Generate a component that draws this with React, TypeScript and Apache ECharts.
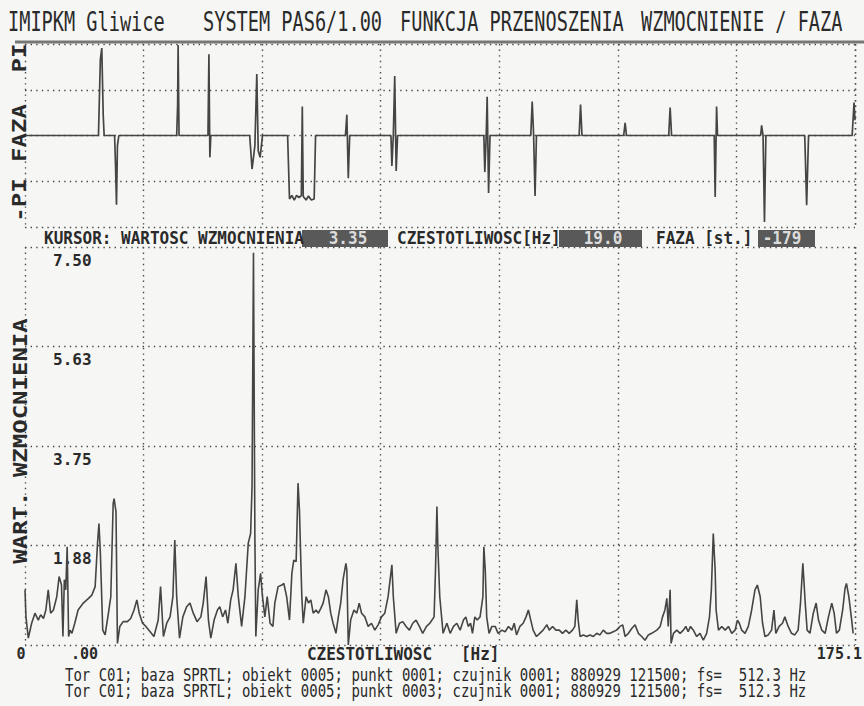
import React, { useEffect, useRef } from "react";
import * as echarts from "echarts";

// ---------- DATA ----------
const freqMax = 175.1;
const freqDivisions = 7;
const magMax = 7.5;
const magInterval = 1.875;
const phaseMin = -180;
const phaseMax = 180;
const phaseInterval = 90;

// magnitude (WART. WZMOCNIENIA) vs frequency [Hz]
const magFreq = [
  0.0, 0.2, 0.7, 1.4, 2.1, 2.8, 3.3, 3.9, 4.4, 4.9,
  5.4, 6.0, 6.7, 7.2, 7.7, 8.0, 8.3, 8.6, 8.9, 9.2,
  9.5, 9.9, 10.5, 11.2, 12.3, 13.4, 14.1, 14.8, 15.3, 15.6,
  15.9, 16.4, 16.9, 17.6, 18.1, 18.6, 18.8, 19.2, 19.5, 20.0,
  20.7, 21.6, 22.3, 23.0, 23.6, 24.1, 24.8, 25.5, 26.4, 27.2,
  28.1, 28.6, 29.2, 29.9, 30.6, 31.2, 31.6, 32.0, 32.6, 33.3,
  34.1, 34.8, 35.5, 36.3, 37.1, 37.6, 38.2, 38.7, 39.2, 39.9,
  40.6, 41.1, 41.7, 42.3, 42.8, 43.4, 43.9, 44.5, 45.0, 45.7,
  46.4, 47.1, 47.6, 47.9, 48.2, 48.5, 48.7, 49.2, 49.7, 50.1,
  50.6, 51.1, 51.7, 52.3, 52.7, 53.4, 54.2, 54.6, 55.2, 55.8,
  56.3, 56.7, 57.2, 57.6, 57.9, 58.2, 58.4, 58.7, 59.3, 59.8,
  60.3, 60.8, 61.4, 61.9, 62.4, 62.9, 63.5, 64.0, 64.5, 65.0,
  65.6, 66.1, 66.6, 67.1, 67.7, 67.9, 68.2, 68.7, 69.4, 70.0,
  70.5, 71.0, 71.7, 72.4, 73.1, 73.8, 74.5, 75.2, 75.9, 76.6,
  77.4, 77.7, 78.3, 79.0, 79.7, 80.4, 81.1, 81.8, 82.5, 83.2,
  83.9, 84.7, 85.4, 86.3, 86.6, 86.9, 87.1, 87.5, 88.2, 89.0,
  89.7, 90.4, 91.1, 91.8, 92.5, 93.0, 93.5, 94.0, 94.4, 94.9,
  95.4, 96.0, 96.6, 96.8, 97.1, 97.4, 97.9, 98.5, 99.2, 99.8,
  100.6, 101.3, 102.0, 102.7, 103.2, 103.7, 104.4, 105.1, 105.7, 106.2,
  106.7, 107.2, 107.9, 108.6, 109.3, 110.1, 110.6, 111.3, 112.0, 112.7,
  113.4, 114.1, 114.8, 115.5, 116.0, 116.4, 116.7, 117.1, 117.8, 118.5,
  119.2, 119.9, 120.6, 121.3, 122.0, 122.7, 123.4, 124.1, 124.8, 125.5,
  126.1, 126.6, 127.3, 128.0, 128.7, 129.4, 130.1, 130.8, 131.5, 132.2,
  133.3, 134.0, 134.5, 135.0, 135.4, 135.7, 136.1, 136.3, 136.8, 137.5,
  138.2, 138.9, 139.4, 139.9, 140.4, 141.0, 141.7, 142.4, 143.1, 143.8,
  144.4, 144.8, 145.2, 145.6, 145.8, 146.3, 147.0, 147.7, 148.4, 149.1,
  149.8, 150.3, 150.7, 151.2, 151.9, 152.6, 153.3, 154.0, 154.5, 155.1,
  155.6, 156.1, 156.8, 157.5, 158.0, 158.4, 159.1, 159.8, 160.3, 161.0,
  161.7, 162.4, 163.1, 163.6, 164.1, 164.6, 165.0, 165.6, 166.3, 166.9,
  167.4, 168.1, 168.8, 169.5, 170.2, 170.7, 171.2, 171.8, 172.5, 173.0,
  173.3, 173.8, 174.4, 174.7,
];
const magVal = [
  1.04, 0.53, 0.13, 0.41, 0.60, 0.47, 0.57, 0.50, 0.66, 1.04,
  0.60, 0.66, 0.91, 1.29, 1.13, 0.16, 1.23, 1.04, 1.85, 0.16,
  0.28, 0.22, 0.41, 0.66, 0.79, 0.88, 0.94, 1.10, 1.92, 2.29,
  1.73, 0.28, 0.19, 0.60, 0.91, 2.67, 2.76, 2.51, 0.03, 0.35,
  0.44, 0.44, 0.50, 0.66, 0.85, 0.60, 0.41, 0.35, 0.25, 0.16,
  0.47, 1.10, 0.16, 0.41, 0.53, 0.91, 1.98, 0.91, 0.13, 0.53,
  0.72, 0.79, 0.60, 0.44, 0.53, 0.79, 1.29, 0.47, 0.13, 0.47,
  0.66, 0.72, 0.53, 0.66, 0.41, 0.85, 1.04, 1.54, 0.91, 0.35,
  0.91, 1.92, 2.10, 3.00, 7.39, 2.00, 0.16, 1.04, 1.35, 0.91,
  0.53, 0.91, 0.41, 0.35, 0.79, 1.10, 1.13, 1.16, 0.91, 0.47,
  1.35, 1.60, 1.57, 3.05, 2.54, 1.54, 0.91, 0.41, 0.91, 0.79,
  0.85, 0.60, 0.66, 0.60, 0.69, 0.79, 1.04, 0.91, 0.60, 0.41,
  0.22, 0.53, 0.79, 1.23, 1.54, 1.41, 0.00, 0.47, 0.66, 0.60,
  0.79, 0.60, 0.53, 0.35, 0.41, 0.28, 0.38, 0.53, 0.60, 0.91,
  1.51, 0.91, 0.22, 0.41, 0.44, 0.35, 0.28, 0.41, 0.47, 0.35,
  0.22, 0.35, 0.41, 0.53, 1.41, 2.61, 1.85, 0.91, 0.22, 0.41,
  0.22, 0.35, 0.41, 0.28, 0.47, 0.53, 0.35, 0.41, 0.22, 0.53,
  0.47, 0.53, 0.91, 1.85, 1.41, 0.53, 0.22, 0.35, 0.35, 0.22,
  0.28, 0.25, 0.35, 0.28, 0.41, 0.19, 0.35, 0.41, 0.53, 0.66,
  0.47, 0.28, 0.16, 0.22, 0.28, 0.38, 0.28, 0.35, 0.28, 0.28,
  0.22, 0.28, 0.22, 0.28, 0.35, 0.85, 0.47, 0.16, 0.19, 0.16,
  0.19, 0.16, 0.22, 0.19, 0.28, 0.22, 0.22, 0.25, 0.28, 0.35,
  0.38, 0.16, 0.22, 0.31, 0.38, 0.22, 0.16, 0.09, 0.19, 0.22,
  0.28, 0.35, 0.53, 0.66, 0.88, 0.35, 1.04, 0.03, 0.22, 0.28,
  0.22, 0.28, 0.35, 0.25, 0.35, 0.28, 0.16, 0.22, 0.09, 0.22,
  0.53, 1.04, 2.10, 1.41, 0.66, 0.28, 0.35, 0.28, 0.35, 0.22,
  0.28, 0.47, 0.41, 0.28, 0.22, 0.35, 0.66, 1.04, 1.13, 0.91,
  0.41, 0.16, 0.19, 0.28, 0.66, 0.22, 0.35, 0.41, 0.53, 0.35,
  0.22, 0.19, 0.28, 0.79, 1.54, 0.79, 0.28, 0.22, 0.60, 0.79,
  0.47, 0.28, 0.22, 0.53, 0.79, 0.60, 0.22, 0.28, 0.66, 1.07,
  1.16, 0.91, 0.47, 0.22,
];

// phase (FAZA) in degrees vs frequency [Hz]
const phaseFreq = [
  0.0, 15.5, 15.9, 16.2, 16.5, 16.7, 18.9, 19.1, 19.3, 19.5, 19.8,
  32.0, 32.2, 32.3, 32.5,
  38.6, 38.8, 39.0, 39.2,
  47.4, 47.9, 48.5, 48.9, 49.2, 49.6, 50.1,
  55.4, 55.8, 56.3, 56.8, 57.3, 57.8, 58.3, 58.5, 58.7, 59.3, 59.8, 60.4, 61.0, 61.3,
  67.6, 67.9, 68.2, 68.5,
  77.2, 77.4, 77.7, 78.0, 78.3, 78.6,
  96.8, 97.0, 97.3, 97.5, 97.8, 98.1,
  106.7, 107.0, 107.3, 107.6, 107.9,
  116.9, 117.2, 117.5,
  126.3, 126.6, 126.9,
  135.8, 136.1, 136.4,
  145.4, 145.6, 145.8, 145.9, 146.1,
  155.2, 155.4, 155.7, 156.0, 156.3,
  164.5, 164.9, 165.3,
  174.5, 174.9, 175.1,
];
const phaseDeg = [
  0, 0, 150, 172, 40, 0, 0, -60, -136, -20, 0,
  0, 60, 178, 0,
  0, 160, -43, 0,
  0, -66, -20, 121, -30, -43, 0,
  0, -125, -118, -127, -118, -122, -118, 57, -120, -127, -119, -127, -125, 0,
  0, 41, -84, 0,
  0, -60, 0, 117, -70, 0,
  0, -72, 0, 76, -113, 0,
  0, 67, 0, -119, 0,
  0, 61, 0,
  0, 25, 0,
  0, 55, 0,
  0, -121, 0, 57, 0,
  0, 20, 0, -170, 0,
  0, -137, 0,
  0, 65, 30,
];

const titleParts = ["IMIPKM Gliwice", "SYSTEM PAS6/1.00", "FUNKCJA PRZENOSZENIA", "WZMOCNIENIE / FAZA"];
const cursorLabels = ["KURSOR: WARTOSC WZMOCNIENIA", "CZESTOTLIWOSC[Hz]", "FAZA [st.]"];
const cursorValues = ["3.35", "19.0", "-179"];
const magAxisTitle = "WART. WZMOCNIENIA";
const phaseAxisTitle = ["-PI", "FAZA", "PI"];
const freqAxisTitle = "CZESTOTLIWOSC   [Hz]";
const freqEndLabels = ["0", ".00", "175.1"];
const footerLines = [
  "Tor C01; baza SPRTL; obiekt 0005; punkt 0001; czujnik 0001; 880929 121500; fs=  512.3 Hz",
  "Tor C01; baza SPRTL; obiekt 0005; punkt 0003; czujnik 0001; 880929 121500; fs=  512.3 Hz",
];

// ---------- RENDER ----------
const FAM = '"DejaVu Sans Mono", "Liberation Mono", monospace';
const INK = "#2a2a2a";

function txt(text: string, x: number, y: number, o: any = {}) {
  const align = o.align || "left";
  const weight = o.weight || "normal";
  const size = o.size || 16;
  return {
    type: "text",
    x,
    y,
    rotation: o.rotation || 0,
    scaleX: o.scaleX || 1,
    scaleY: o.scaleY || 1,
    silent: true,
    z: 10,
    style: {
      text,
      fill: o.fill || INK,
      font: `${weight} ${size}px ${FAM}`,
      align,
      verticalAlign: "middle",
      textAlign: align,
      textVerticalAlign: "middle",
    },
  };
}

export default function App() {
  const ref = useRef<HTMLDivElement>(null);

  useEffect(() => {
    if (!ref.current) return;
    const chart = echarts.init(ref.current, undefined, { renderer: "svg" });

    const split = { show: true, lineStyle: { color: "#4a4a4a", width: 1.4, type: [1.4, 4.2] } };
    const hidden = { show: false };

    const titleX = [8, 203, 400, 641];
    const graphic: any[] = [];
    titleParts.forEach((t, i) =>
      graphic.push(txt(t, titleX[i], 22, { size: 18.6, scaleY: 1.4 }))
    );
    graphic.push({
      type: "line",
      silent: true,
      shape: { x1: 15, y1: 42, x2: 864, y2: 42 },
      style: { stroke: "#777", lineWidth: 3 },
    });
    // phase axis title (rotated)
    const phaseY = [200, 133, 58];
    phaseAxisTitle.forEach((t, i) =>
      graphic.push(txt(t, 19, phaseY[i], { size: 20, weight: "bold", rotation: Math.PI / 2, scaleX: 1.2, align: "center" }))
    );
    // cursor line
    const labX = [44, 397, 656];
    cursorLabels.forEach((t, i) =>
      graphic.push(txt(t, labX[i], 238, { size: 16, weight: "bold", scaleY: 1.15 }))
    );
    const boxes = [
      [302, 86, 348],
      [559, 83, 603],
      [758, 57, 782],
    ];
    cursorValues.forEach((v, i) => {
      const [bx, bw, tx] = boxes[i];
      graphic.push({
        type: "rect",
        silent: true,
        z: 9,
        shape: { x: bx, y: 230, width: bw, height: 17 },
        style: { fill: "#595959" },
      });
      graphic.push(txt(v, tx, 238, { size: 16, weight: "bold", scaleY: 1.15, align: "center", fill: "#dcdcdc" }));
    });
    // magnitude axis title
    graphic.push(txt(magAxisTitle, 20, 441, { size: 20, weight: "bold", rotation: Math.PI / 2, scaleX: 1.2, align: "center" }));
    // frequency axis texts
    graphic.push(txt(freqEndLabels[0], 21, 654, { size: 15, weight: "bold", align: "center" }));
    graphic.push(txt(freqEndLabels[1], 71, 654, { size: 15, weight: "bold" }));
    graphic.push(txt(freqAxisTitle, 307, 654, { size: 16, weight: "bold", scaleY: 1.1 }));
    graphic.push(txt(freqEndLabels[2], 862, 654, { size: 15, weight: "bold", align: "right" }));
    // footer
    footerLines.forEach((t, i) =>
      graphic.push(txt(t, 65, 676 + i * 16, { size: 14, scaleY: 1.2 }))
    );

    chart.setOption({
      animation: false,
      backgroundColor: "#f6f6f4",
      grid: [
        { left: 25, top: 44, width: 830, height: 183 },
        { left: 25, top: 247, width: 830, height: 398 },
      ],
      xAxis: [0, 1].map((i) => ({
        type: "value",
        gridIndex: i,
        min: 0,
        max: freqMax,
        interval: freqMax / freqDivisions,
        axisLine: hidden,
        axisTick: hidden,
        axisLabel: hidden,
        splitLine: split,
      })),
      yAxis: [
        {
          type: "value",
          gridIndex: 0,
          min: phaseMin,
          max: phaseMax,
          interval: phaseInterval,
          axisLine: hidden,
          axisTick: hidden,
          axisLabel: hidden,
          splitLine: split,
        },
        {
          type: "value",
          gridIndex: 1,
          min: 0,
          max: magMax,
          interval: magInterval,
          axisLine: hidden,
          axisTick: hidden,
          splitLine: split,
          axisLabel: {
            inside: true,
            margin: 28,
            align: "left",
            verticalAlign: "top",
            padding: [5, 0, 0, 0],
            fontFamily: FAM,
            fontWeight: "bold",
            fontSize: 16,
            color: INK,
            formatter: (v: number) => (v === 0 ? "" : v.toFixed(2)),
          },
        },
      ],
      series: [
        {
          type: "line",
          xAxisIndex: 0,
          yAxisIndex: 0,
          data: phaseFreq.map((f, i) => [f, phaseDeg[i]]),
          symbol: "none",
          silent: true,
          lineStyle: { color: "#454545", width: 1.7 },
        },
        {
          type: "line",
          xAxisIndex: 1,
          yAxisIndex: 1,
          data: magFreq.map((f, i) => [f, magVal[i]]),
          symbol: "none",
          silent: true,
          lineStyle: { color: "#454545", width: 1.6 },
        },
      ],
      graphic,
    });

    return () => chart.dispose();
  }, []);

  return (
    <div
      ref={ref}
      style={{ position: "absolute", left: 0, top: 0, width: 864, height: 706 }}
    />
  );
}
